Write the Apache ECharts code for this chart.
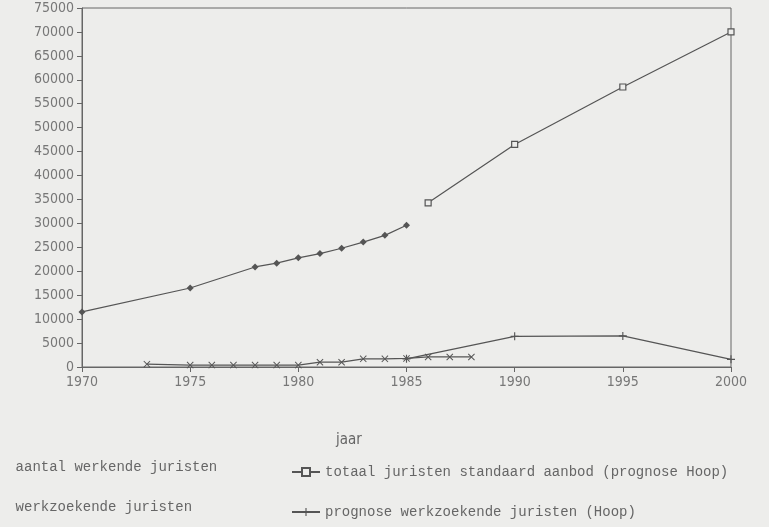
<!DOCTYPE html>
<html>
<head>
<meta charset="utf-8">
<script src="https://cdn.jsdelivr.net/npm/echarts@6/dist/echarts.min.js"></script>
<style>
  html, body { margin: 0; padding: 0; background: #ededeb; }
  #chart { width: 769px; height: 527px; }
</style>
</head>
<body>
<div id="chart"></div>
<script>
// waarden
var werkendeJaren = [1970, 1975, 1978, 1979, 1980, 1981, 1982, 1983, 1984, 1985];
var werkende = [11500, 16500, 20900, 21700, 22800, 23700, 24800, 26100, 27500, 29600];

var aanbodJaren = [1986, 1990, 1995, 2000];
var aanbod = [34300, 46500, 58500, 70000];

var zoekendeJaren = [1973, 1975, 1976, 1977, 1978, 1979, 1980, 1981, 1982, 1983, 1984, 1985, 1986, 1987, 1988];
var zoekende = [600, 400, 400, 400, 400, 400, 400, 1000, 1000, 1700, 1700, 1800, 2100, 2100, 2100];

var prognoseJaren = [1985, 1990, 1995, 2000];
var prognose = [1700, 6400, 6500, 1600];

function pairs(xs, ys) {
  return xs.map(function (x, i) { return [x, ys[i]]; });
}

var lijn = '#555555';
var crossPath = 'path://M0,1L1,0L5,4L9,0L10,1L6,5L10,9L9,10L5,6L1,10L0,9L4,5Z';
var plusPath = 'path://M4.3,0H5.7V4.3H10V5.7H5.7V10H4.3V5.7H0V4.3H4.3Z';
var monoText = { fontFamily: 'Liberation Mono', fontSize: 14, color: '#666' };
var tickText = { fontFamily: 'DejaVu Sans Condensed', fontSize: 14, color: '#777', margin: 8,
  formatter: function (v) { return String(v); } };

var chart = echarts.init(document.getElementById('chart'));
chart.setOption({
  backgroundColor: '#ededeb',
  animation: false,
  title: {
    text: 'jaar', left: 331, top: 428,
    textStyle: { fontFamily: 'DejaVu Sans Condensed', fontSize: 15, fontWeight: 'normal', color: '#666' }
  },
  grid: {
    left: 82, right: 38, top: 8, bottom: 160,
    show: true, borderColor: '#666', borderWidth: 1
  },
  legend: [
    {
      orient: 'vertical', left: 0, top: 455, itemGap: 26,
      itemWidth: 0, itemHeight: 14,
      itemStyle: { opacity: 0 }, lineStyle: { opacity: 0 },
      textStyle: monoText,
      data: ['aantal werkende juristen', 'werkzoekende juristen']
    },
    {
      orient: 'vertical', left: 286, top: 460, itemGap: 26,
      itemWidth: 28, itemHeight: 10,
      textStyle: monoText,
      data: ['totaal juristen standaard aanbod (prognose Hoop)', 'prognose werkzoekende juristen (Hoop)']
    }
  ],
  xAxis: {
    type: 'value', min: 1970, max: 2000, interval: 5,
    splitLine: { show: false },
    axisLine: { lineStyle: { color: '#666' } },
    axisTick: { lineStyle: { color: '#666' } },
    axisLabel: tickText
  },
  yAxis: {
    type: 'value', min: 0, max: 75000, interval: 5000,
    splitLine: { show: false },
    axisLine: { show: true, lineStyle: { color: '#666' } },
    axisTick: { show: true, lineStyle: { color: '#666' } },
    axisLabel: tickText
  },
  series: [
    {
      name: 'aantal werkende juristen', type: 'line',
      data: pairs(werkendeJaren, werkende),
      symbol: 'diamond', symbolSize: 7,
      lineStyle: { color: lijn, width: 1.2 },
      itemStyle: { color: lijn }
    },
    {
      name: 'totaal juristen standaard aanbod (prognose Hoop)', type: 'line',
      data: pairs(aanbodJaren, aanbod),
      symbol: 'rect', symbolSize: 6,
      lineStyle: { color: lijn, width: 1.2 },
      itemStyle: { color: '#ededeb', borderColor: lijn, borderWidth: 1.2 }
    },
    {
      name: 'werkzoekende juristen', type: 'line',
      data: pairs(zoekendeJaren, zoekende),
      symbol: crossPath, symbolSize: 7,
      lineStyle: { color: lijn, width: 1.2 },
      itemStyle: { color: lijn }
    },
    {
      name: 'prognose werkzoekende juristen (Hoop)', type: 'line',
      data: pairs(prognoseJaren, prognose),
      symbol: plusPath, symbolSize: 8,
      lineStyle: { color: lijn, width: 1.2 },
      itemStyle: { color: lijn }
    }
  ]
});
</script>
</body>
</html>
